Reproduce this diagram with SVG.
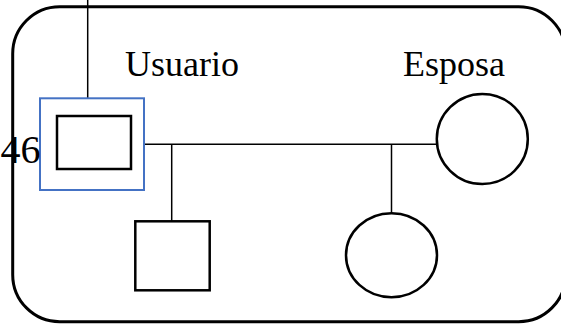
<svg xmlns="http://www.w3.org/2000/svg" width="561" height="324" viewBox="0 0 561 324">
<style>
.lbl{font-family:"Liberation Serif","Times New Roman",serif;font-size:36px;fill:#000}
.ln{stroke:#000;stroke-width:1.5;fill:none}
.shape{stroke:#000;stroke-width:2.5;fill:#fff}
</style>
<rect x="0" y="0" width="561" height="324" fill="#fff"/>
<g id="frame">
<rect x="12.7" y="6.7" width="553" height="315" rx="47" ry="47" fill="none" stroke="#000" stroke-width="3"/>
</g>
<g id="connectors">
<line class="ln" x1="87.7" y1="0" x2="87.7" y2="98"/>
<line class="ln" x1="144" y1="144.3" x2="437" y2="144.3"/>
<line class="ln" x1="171.7" y1="144.3" x2="171.7" y2="221"/>
<line class="ln" x1="391.5" y1="144.3" x2="391.5" y2="213"/>
</g>
<g id="usuario">
<rect x="40" y="98.3" width="104" height="91.7" fill="#fff" stroke="#4472C4" stroke-width="2"/>
<rect x="57" y="116" width="74" height="53" class="shape"/>
<text class="lbl" x="125" y="76">Usuario</text>
<text class="lbl" x="40.5" y="162.5" text-anchor="end" style="font-size:40px">46</text>
</g>
<g id="esposa">
<ellipse cx="482.3" cy="139" rx="45.5" ry="45" class="shape"/>
<text class="lbl" x="403" y="76">Esposa</text>
</g>
<g id="hijo">
<rect x="135.3" y="221.3" width="74.4" height="69" class="shape"/>
</g>
<g id="hija">
<ellipse cx="391.5" cy="255.2" rx="45.5" ry="42" class="shape"/>
</g>
</svg>
